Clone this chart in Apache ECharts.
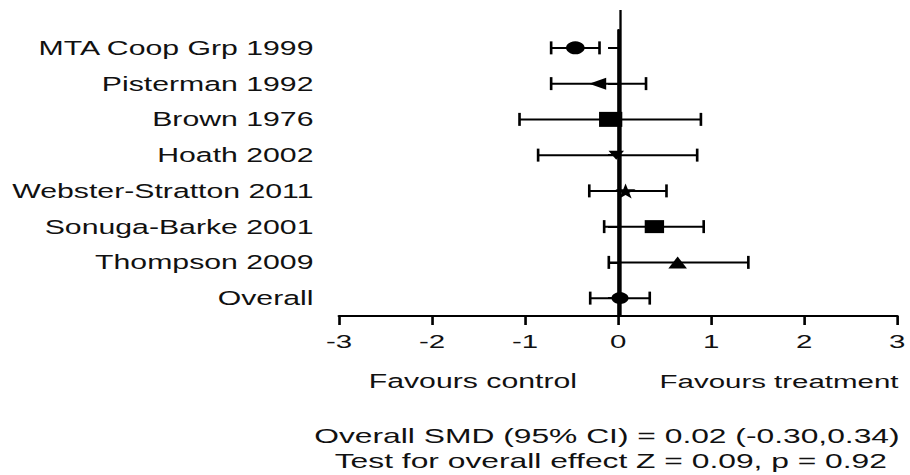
<!DOCTYPE html>
<html>
<head>
<meta charset="utf-8">
<script src="https://cdn.jsdelivr.net/npm/echarts@6/dist/echarts.min.js"></script>
<style>
html,body{margin:0;padding:0;background:#fff;overflow:hidden;width:910px;height:475px;}
#chart{width:587px;height:475px;transform:scaleX(1.5503);transform-origin:0 0;}
</style>
</head>
<body>
<div id="chart"></div>
<script>
// ---- data ----
const studies = ["MTA Coop Grp 1999","Pisterman 1992","Brown 1976","Hoath 2002","Webster-Stratton 2011","Sonuga-Barke 2001","Thompson 2009","Overall"];
const smd   = [-0.46, -0.22, -0.08, -0.02, 0.08, 0.39, 0.64, 0.02];
const ciLow = [-0.72, -0.72, -1.06, -0.86, -0.31, -0.15, -0.10, -0.30];
const ciHigh= [-0.20,  0.30,  0.89,  0.85,  0.52,  0.92,  1.40,  0.34];
const xTicks = [-3,-2,-1,0,1,2,3];
const xLabelLeft = "Favours control";
const xLabelRight = "Favours treatment";
const summaryLines = ["Overall SMD (95% CI) = 0.02 (-0.30,0.34)", "Test for overall effect Z = 0.09, p = 0.92"];

// ---- styles ----
const FONT = "Liberation Sans, Arial, sans-serif";
const TXT = "#111";
const markerStyle = [
  {symbol:'circle', size:[12,13], rotate:0},
  {symbol:'triangle', size:[12,11], rotate:90},
  {symbol:'rect', size:[15,15], rotate:0},
  {symbol:'triangle', size:[10,9], rotate:180},
  {symbol:'path://M50,0 L61,35 L98,35 L68,57 L79,91 L50,70 L21,91 L32,57 L2,35 L39,35 Z', size:[13,15], rotate:0},
  {symbol:'rect', size:[12.5,13], rotate:0},
  {symbol:'triangle', size:[12,12], rotate:0},
  {symbol:'circle', size:[11,12], rotate:0}
];

const chart = echarts.init(document.getElementById('chart'), null, {renderer:'svg'});

const ciData = studies.map((s,i)=>[s, ciLow[i], ciHigh[i]]);
const pointData = studies.map((s,i)=>({
  value:[smd[i], s],
  symbol: markerStyle[i].symbol,
  symbolSize: markerStyle[i].size,
  symbolRotate: markerStyle[i].rotate
}));

const option = {
  animation:false,
  backgroundColor:'#fff',
  grid:[
    {left:218.7, right:5.2, top:30, bottom:159, containLabel:false},
    {left:218.7, right:5.2, top:10, bottom:159, containLabel:false}
  ],
  xAxis:[
    {
      gridIndex:0, type:'value', min:xTicks[0], max:xTicks[xTicks.length-1], interval:1,
      axisLine:{show:true, onZero:false, lineStyle:{color:'#000', width:2}},
      axisTick:{show:true, length:9, lineStyle:{color:'#000', width:1.7}},
      axisLabel:{show:true, margin:16, color:TXT, fontFamily:FONT, fontSize:19, formatter:v=>String(v)},
      splitLine:{show:false}
    },
    {gridIndex:1, type:'value', min:-3, max:3, show:false}
  ],
  yAxis:[
    {
      gridIndex:0, type:'category', data:studies, inverse:true,
      axisLine:{show:true, lineStyle:{color:'#000', width:1.8}},
      axisTick:{show:true, alignWithLabel:true, length:6.5, lineStyle:{color:'#000', width:2}},
      axisLabel:{show:true, margin:16.5, color:TXT, fontFamily:FONT, fontSize:19.5},
      splitLine:{show:false}
    },
    {gridIndex:1, type:'value', min:0, max:1, show:false}
  ],
  series:[
    {
      type:'line', xAxisIndex:1, yAxisIndex:1, data:[[0,0],[0,1]],
      symbol:'none', lineStyle:{color:'#000', width:1.5}, z:1, silent:true
    },
    {
      type:'custom', xAxisIndex:0, yAxisIndex:0, data:ciData, z:3,
      encode:{y:0, x:[1,2]},
      renderItem:function(params, api){
        const cat = api.value(0);
        const pLo = api.coord([api.value(1), cat]);
        const pHi = api.coord([api.value(2), cat]);
        const h = 6.5;
        const st = {stroke:'#000', lineWidth:2, fill:null};
        return {type:'group', children:[
          {type:'line', shape:{x1:pLo[0], y1:pLo[1], x2:pHi[0], y2:pHi[1]}, style:st},
          {type:'line', shape:{x1:pLo[0], y1:pLo[1]-h, x2:pLo[0], y2:pLo[1]+h}, style:{stroke:'#000', lineWidth:1.7, fill:null}},
          {type:'line', shape:{x1:pHi[0], y1:pHi[1]-h, x2:pHi[0], y2:pHi[1]+h}, style:{stroke:'#000', lineWidth:1.7, fill:null}}
        ]};
      }
    },
    {
      type:'scatter', xAxisIndex:0, yAxisIndex:0, data:pointData, z:5,
      itemStyle:{color:'#000', opacity:1}
    }
  ],
  graphic:[
    {type:'text', x:305, y:381, style:{text:xLabelLeft, x:0, y:0, textAlign:'center', textVerticalAlign:'middle', fill:TXT, font:'19.5px '+FONT}},
    {type:'text', x:502.5, y:381, style:{text:xLabelRight, x:0, y:0, textAlign:'center', textVerticalAlign:'middle', fill:TXT, font:'19px '+FONT}},
    {type:'text', x:391.5, y:436, style:{text:summaryLines[0], x:0, y:0, textAlign:'center', textVerticalAlign:'middle', fill:TXT, font:'20.5px '+FONT}},
    {type:'text', x:394, y:461, style:{text:summaryLines[1], x:0, y:0, textAlign:'center', textVerticalAlign:'middle', fill:TXT, font:'20.5px '+FONT}}
  ]
};
chart.setOption(option);
</script>
</body>
</html>
